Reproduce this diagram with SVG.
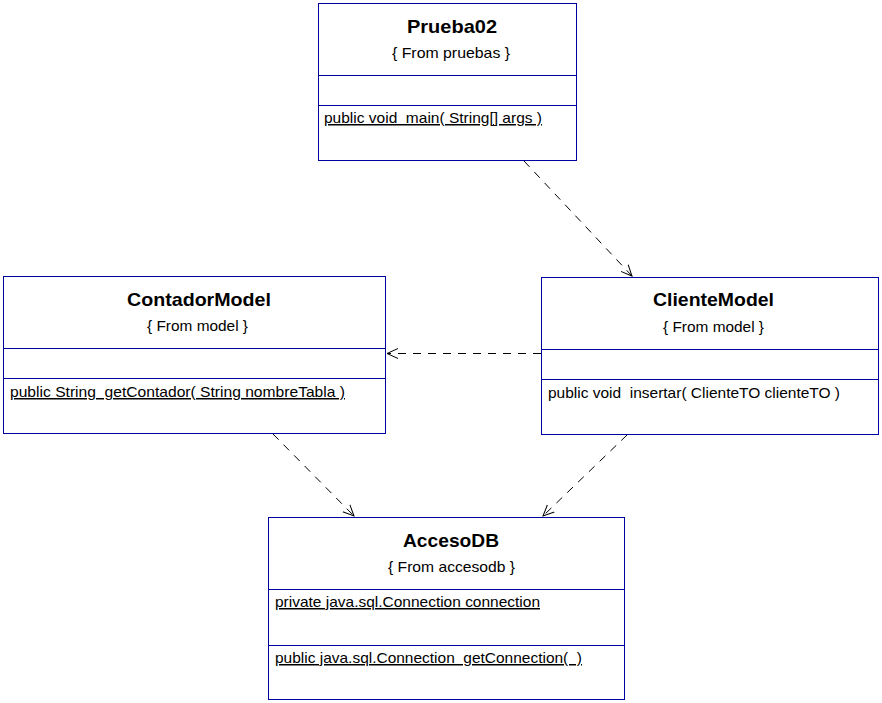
<svg xmlns="http://www.w3.org/2000/svg" width="882" height="703" viewBox="0 0 882 703">
<defs>
<style>
.box{fill:#fff;stroke:#0000a0;stroke-width:1}
.div{stroke:#0000a0;stroke-width:1}
.t{font-family:"Liberation Sans",Arial,sans-serif;font-weight:bold;font-size:19px;text-anchor:middle;fill:#000}
.s{font-family:"Liberation Sans",Arial,sans-serif;font-size:15px;text-anchor:middle;fill:#000}
.m{font-family:"Liberation Sans",Arial,sans-serif;font-size:15px;fill:#000;white-space:pre}
.u{text-decoration:underline}
.dep{fill:none;stroke:#000;stroke-width:1;stroke-dasharray:8,7}
</style>
<marker id="open" viewBox="0 0 12 12" refX="11" refY="6" markerWidth="12" markerHeight="12" markerUnits="userSpaceOnUse" orient="auto">
<path d="M0,1 L11,6 L0,11" fill="none" stroke="#000" stroke-width="1"/>
</marker>
</defs>
<rect width="882" height="703" fill="#fff"/>
<g id="connectors">
<line class="dep" x1="524" y1="161" x2="632" y2="276" marker-end="url(#open)"/>
<line class="dep" x1="541" y1="353.5" x2="387" y2="353.5" marker-end="url(#open)"/>
<line class="dep" x1="273" y1="434" x2="354" y2="516" marker-end="url(#open)"/>
<line class="dep" x1="627" y1="435" x2="543" y2="516" marker-end="url(#open)"/>
</g>
<g id="Prueba02">
<rect class="box" x="318.5" y="3.5" width="258" height="157"/>
<line class="div" x1="318.5" y1="75.5" x2="576.5" y2="75.5"/>
<line class="div" x1="318.5" y1="105.5" x2="576.5" y2="105.5"/>
<text class="t" x="452" y="33" textLength="90" lengthAdjust="spacingAndGlyphs">Prueba02</text>
<text class="s" x="451" y="58" textLength="118" lengthAdjust="spacingAndGlyphs">{ From pruebas }</text>
<text class="m u" x="324" y="123" textLength="218" lengthAdjust="spacingAndGlyphs" xml:space="preserve">public void  main( String[] args )</text>
</g>
<g id="ContadorModel">
<rect class="box" x="3.5" y="276.5" width="382" height="157"/>
<line class="div" x1="3.5" y1="348.5" x2="385.5" y2="348.5"/>
<line class="div" x1="3.5" y1="378.5" x2="385.5" y2="378.5"/>
<text class="t" x="199" y="306" textLength="144" lengthAdjust="spacingAndGlyphs">ContadorModel</text>
<text class="s" x="197.5" y="331" textLength="101" lengthAdjust="spacingAndGlyphs">{ From model }</text>
<text class="m u" x="10" y="397" textLength="335" lengthAdjust="spacingAndGlyphs" xml:space="preserve">public String  getContador( String nombreTabla )</text>
</g>
<g id="ClienteModel">
<rect class="box" x="541.5" y="277.5" width="337" height="157"/>
<line class="div" x1="541.5" y1="349.5" x2="878.5" y2="349.5"/>
<line class="div" x1="541.5" y1="379.5" x2="878.5" y2="379.5"/>
<text class="t" x="713.5" y="306" textLength="121" lengthAdjust="spacingAndGlyphs">ClienteModel</text>
<text class="s" x="713.5" y="332" textLength="101" lengthAdjust="spacingAndGlyphs">{ From model }</text>
<text class="m" x="548" y="398" textLength="292" lengthAdjust="spacingAndGlyphs" xml:space="preserve">public void  insertar( ClienteTO clienteTO )</text>
</g>
<g id="AccesoDB">
<rect class="box" x="268.5" y="517.5" width="356" height="182"/>
<line class="div" x1="268.5" y1="589.5" x2="624.5" y2="589.5"/>
<line class="div" x1="268.5" y1="645.5" x2="624.5" y2="645.5"/>
<text class="t" x="451" y="547" textLength="96" lengthAdjust="spacingAndGlyphs">AccesoDB</text>
<text class="s" x="451.5" y="572" textLength="127" lengthAdjust="spacingAndGlyphs">{ From accesodb }</text>
<text class="m u" x="275" y="607" textLength="265" lengthAdjust="spacingAndGlyphs" xml:space="preserve">private java.sql.Connection connection</text>
<text class="m u" x="275" y="663" textLength="307" lengthAdjust="spacingAndGlyphs" xml:space="preserve">public java.sql.Connection  getConnection(  )</text>
</g>
</svg>
